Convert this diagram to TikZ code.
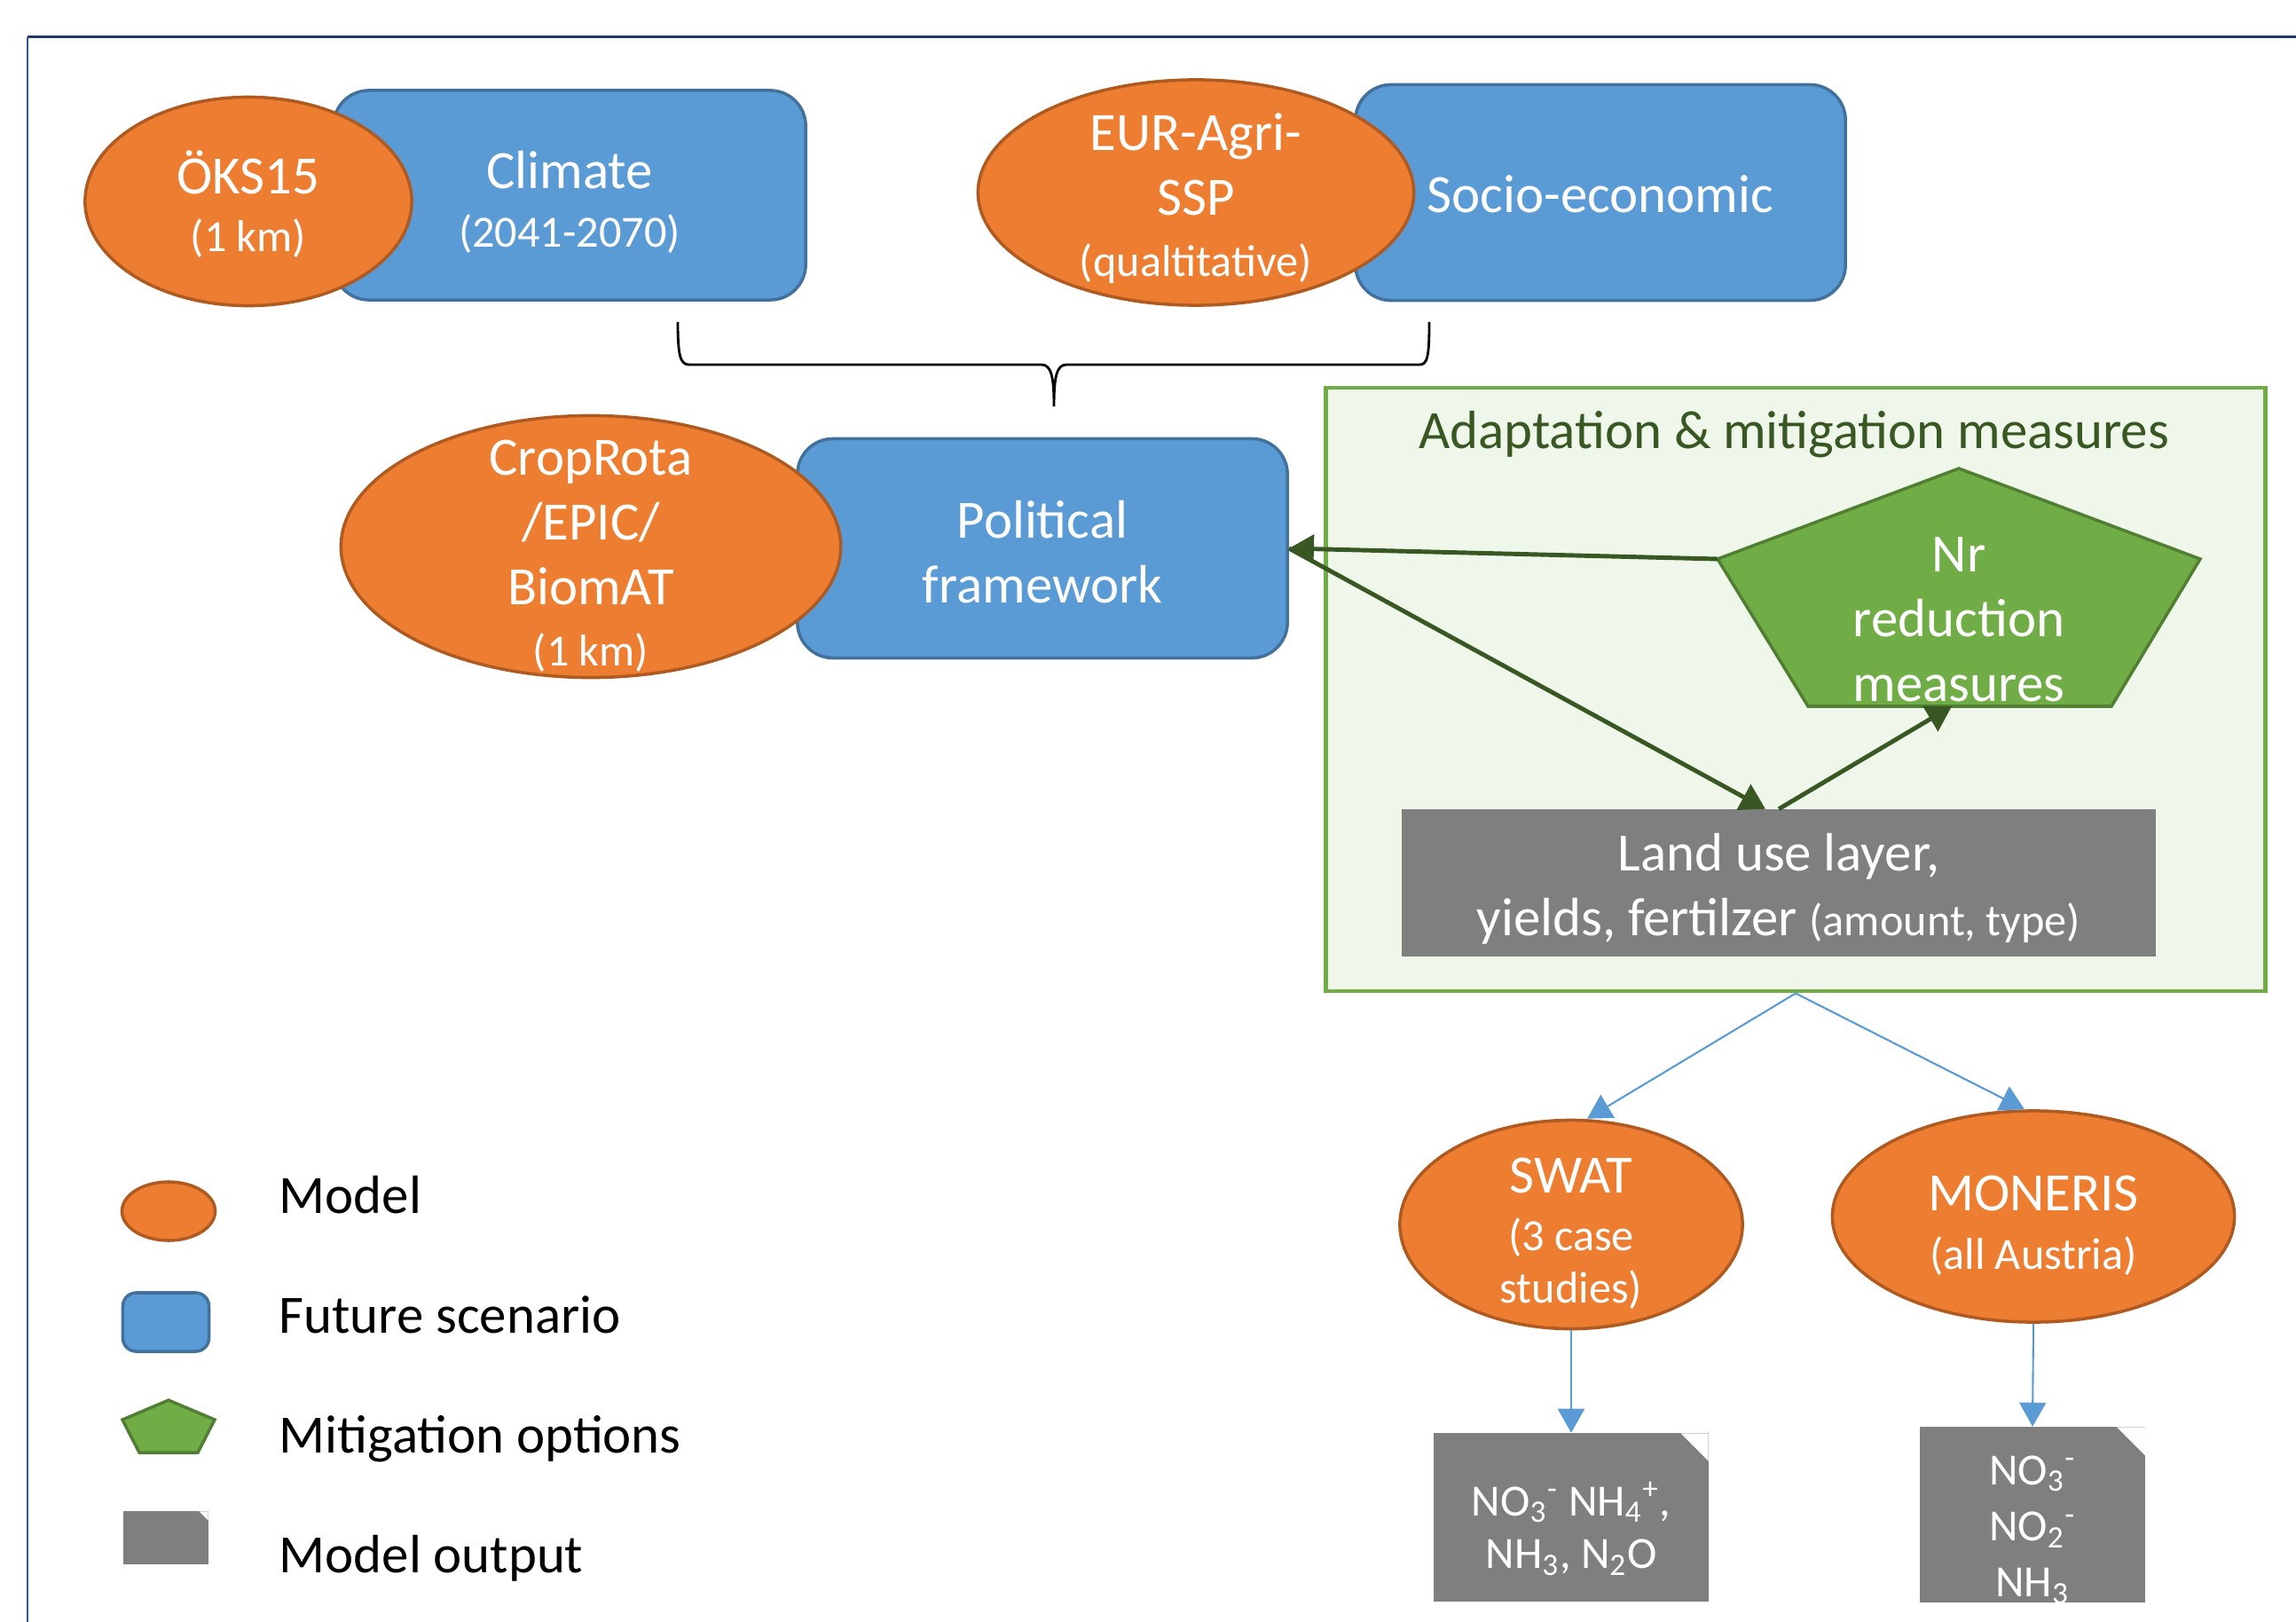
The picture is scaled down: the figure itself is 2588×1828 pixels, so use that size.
\documentclass[tikz,border=0pt]{standalone}
\usepackage{fontspec}
\setmainfont{Carlito}
\usetikzlibrary{shapes.geometric,arrows.meta}

\definecolor{orgfill}{HTML}{ED7D31}
\definecolor{orgline}{HTML}{AE5A21}
\definecolor{bluefill}{HTML}{5B9BD5}
\definecolor{blueline}{HTML}{41719C}
\definecolor{grnfill}{HTML}{70AD47}
\definecolor{grnline}{HTML}{507E32}
\definecolor{grndark}{HTML}{385723}
\definecolor{grnpale}{HTML}{EFF6EA}
\definecolor{outgray}{HTML}{7F7F7F}
\definecolor{framenavy}{HTML}{1F3864}
\definecolor{frameblue}{HTML}{2F5597}

\newcommand{\bigtxt}{\fontsize{17.3}{20.7}\selectfont}
\newcommand{\subtxt}{\fontsize{14.3}{17}\selectfont}

\tikzset {
  model/.style 2 args = {
    ellipse,
    draw=orgline,
    fill=orgfill,
    line width=1pt,
    inner sep=0pt,
    minimum width=#1,
    minimum height=#2
  },
  scenario/.style 2 args = {
    rectangle,
    rounded corners=0.4cm,
    draw=blueline,
    fill=bluefill,
    line width=1pt,
    minimum width=#1,
    minimum height=#2
  },
  measure style/.style = {
    draw=grnline,
    fill=grnfill,
    line width=1pt
  },
  intext/.style = {text=white, align=center, font=\bigtxt, inner sep=0pt},
  outbox/.style n args = {3}{
    fill=outgray,
    minimum width=#1,
    minimum height=#2,
    inner sep=0pt,
    path picture = {
      \fill[white] ([xshift=-#3]path picture bounding box.north east)
        -- (path picture bounding box.north east)
        -- ([yshift=-#3]path picture bounding box.north east) -- cycle;
    }
  },
  feedback/.style = {draw=grndark, line width=1.4pt, -{Triangle[length=0.28cm, width=0.32cm]}},
  flow/.style = {draw=bluefill, line width=0.6pt, -{Triangle[length=0.27cm, width=0.3cm]}},
  legtxt/.style = {anchor=base west, font=\bigtxt, inner sep=0pt}
}

\begin{document}
\begin{tikzpicture}[x=0.01cm, y=-0.01cm]

\useasboundingbox (0,0) rectangle (2588,1828);

% --- Frame ---
\draw[framenavy, line width=0.03cm] (31,42) -- (2588,42);
\draw[frameblue, line width=0.02cm] (31,42) -- (31,1828);

\coordinate (OKS)  at ( 280, 227);
\coordinate (EUR)  at (1348, 217);
\coordinate (CROP) at ( 666, 616);
\coordinate (SWAT) at (1771,1380);
\coordinate (MON)  at (2292,1371);

% --- Scenarios and models ---
\node[scenario={5.32cm}{2.36cm}] (clim) at (642,220) {};
\node[intext, yshift=-0.08cm] (climT) at (clim) {Climate\\[-2pt]{\subtxt (2041-2070)}};
\node[model={3.68cm}{2.35cm}] (oks) at (OKS) {};
\node[intext, yshift=-0.03cm] (oksT) at (OKS) {ÖKS15\\[-2pt]{\subtxt (1 km)}};

\node[scenario={5.52cm}{2.43cm}] (socio) at (1804,217) {};
\node[intext, yshift=-0.02cm] (socioT) at (socio) {Socio-economic};
\node[model={4.91cm}{2.54cm}] (eur) at (EUR) {};
\node[intext, yshift=-0.07cm] (eurT) at (EUR) {EUR-Agri-\\SSP\\[-1pt]{\subtxt (qualtitative)}};

\draw[line width=0.8pt]
  (764,363) .. controls (764,402) and (767,411) .. (777,411) -- (1174,411)
  .. controls (1185,411) and (1188,425) .. (1188,458)
  .. controls (1188,425) and (1191,411) .. (1202,411) -- (1600,411)
  .. controls (1609,411) and (1611,402) .. (1611,363);

\node[scenario={5.52cm}{2.47cm}] (pol) at (1175,618) {};
\node[intext, yshift=-0.04cm] (polT) at (pol) {Political\\framework};
\node[model={5.63cm}{2.95cm}] (crop) at (CROP) {};
\node[intext, yshift=-0.11cm] (cropT) at (CROP) {CropRota\\/EPIC/\\BiomAT\\[-1pt]{\subtxt (1 km)}};

% --- Adaptation & mitigation ---
\node[draw=grnfill, fill=grnpale, line width=1.3pt, minimum width=10.58cm,
  minimum height=6.8cm, inner sep=0pt] (adapt) at (2024,777) {};
\node[anchor=base, text=grndark, font=\bigtxt, inner sep=0pt] (adaptT) at (2022,506)
  {Adaptation \& mitigation measures};

\coordinate (nrT)  at (2208,528);
\coordinate (nrR)  at (2480,630);
\coordinate (nrBR) at (2380,796);
\coordinate (nrBL) at (2038,796);
\coordinate (nrL)  at (1936,630);
\coordinate (nrS)  at (2200,796);
\filldraw[measure style] (nrT) -- (nrR) -- (nrBR) -- (nrBL) -- (nrL) -- cycle;
\node[intext, yshift=-0.05cm] (nr) at (2208,693) {Nr\\reduction\\measures};

\node[fill=outgray, minimum width=8.5cm, minimum height=1.65cm] (lu) at (2005,995) {};
\node[intext, yshift=-0.065cm] (luT) at (lu)
  {Land use layer,\\yields, fertilzer {\subtxt (amount, type)}};

\draw[feedback] (nrL) -- (pol.east);
\draw[feedback] (pol.east) -- ([xshift=-0.15cm]lu.north);
\draw[feedback] (lu.north) -- (nrS);

% --- Water quality models ---
\node[model={3.86cm}{2.35cm}] (swat) at (SWAT) {};
\node[intext, yshift=-0.1cm] (swatT) at (SWAT) {SWAT\\[-2pt]{\subtxt (3 case}\\[-4pt]{\subtxt studies)}};
\node[model={4.53cm}{2.38cm}] (mon) at (MON) {};
\node[intext, yshift=-0.1cm] (monT) at (MON) {MONERIS\\[-2pt]{\subtxt (all Austria)}};

\draw[flow] (adapt.south) -- ([xshift=0.18cm]swat.north);
\draw[flow] (adapt.south) -- ([xshift=-0.1cm]mon.north);

\node[outbox={3.09cm}{1.89cm}{0.31cm}] (out1) at (1771,1710) {};
\node[intext, font=\subtxt, yshift=-0.13cm] (out1T) at (out1)
  {NO\textsubscript{3}\textsuperscript{-} NH\textsubscript{4}\textsuperscript{+},\\NH\textsubscript{3}, N\textsubscript{2}O};
\node[outbox={2.54cm}{1.97cm}{0.32cm}] (out2) at (2291,1707) {};
\node[intext, font=\subtxt, yshift=-0.17cm] (out2T) at (out2)
  {NO\textsubscript{3}\textsuperscript{-}\\[1pt]NO\textsubscript{2}\textsuperscript{-}\\[1pt]NH\textsubscript{3}};

\draw[flow] (swat.south) -- (out1.north);
\draw[flow] (mon.south) -- (out2.north);

% --- Legend ---
\node[model={1.05cm}{0.66cm}] (legM) at (190,1365) {};
\node[scenario={0.97cm}{0.66cm}, rounded corners=0.15cm] (legS) at (187,1490) {};
\filldraw[measure style] (190,1578) -- (242,1600) -- (223,1637) -- (157,1637) -- (138,1600) -- cycle;
\node[outbox={0.95cm}{0.59cm}{0.1cm}] (legO) at (187,1733) {};

\node[legtxt] (legMT) at (314,1367) {Model};
\node[legtxt] (legST) at (314,1502) {Future scenario};
\node[legtxt] (legPT) at (314,1637) {Mitigation options};
\node[legtxt] (legOT) at (314,1772) {Model output};

\end{tikzpicture}
\end{document}
